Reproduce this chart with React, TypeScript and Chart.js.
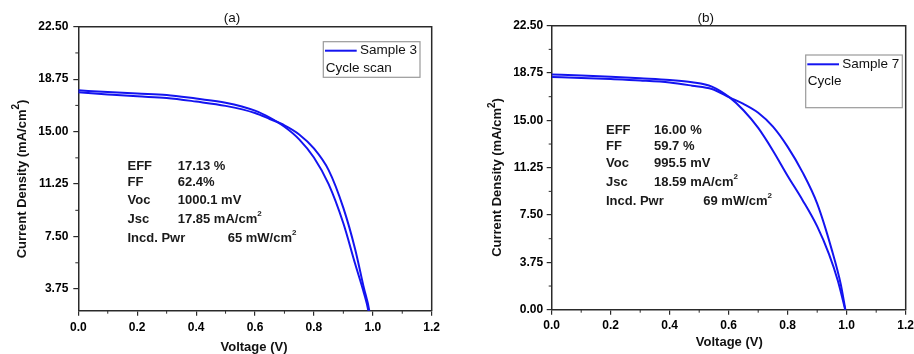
import React, { useEffect, useRef } from "react";
import { Chart, registerables } from "chart.js";
Chart.register(...registerables);

// ---------- data ----------
const xTicks = [0, 0.2, 0.4, 0.6, 0.8, 1.0, 1.2];
const yTicksA = [3.75, 7.5, 11.25, 15, 18.75, 22.5];
const yTicksB = [0, 3.75, 7.5, 11.25, 15, 18.75, 22.5];

// Panel (a) – Sample 3, cycle scan (two sweeps)
const voltA1 = [0, 0.1, 0.2, 0.3, 0.4, 0.5, 0.6, 0.65, 0.7, 0.75, 0.8, 0.85, 0.9, 0.94, 0.97, 0.985, 1.0];
const currA1 = [17.95, 17.83, 17.72, 17.62, 17.36, 17.07, 16.5, 16.0, 15.35, 14.45, 13.15, 11.25, 8.45, 5.55, 3.45, 2.2, 0];
const voltA2 = [0, 0.1, 0.2, 0.3, 0.4, 0.5, 0.6, 0.65, 0.7, 0.75, 0.8, 0.85, 0.9, 0.94, 0.97, 0.988, 1.0001];
const currA2 = [17.81, 17.66, 17.52, 17.41, 17.15, 16.84, 16.33, 15.9, 15.45, 14.8, 13.8, 12.25, 9.55, 6.6, 3.8, 2.2, 0];

// Panel (b) – Sample 7, cycle (two sweeps)
const voltB1 = [0, 0.1, 0.2, 0.3, 0.4, 0.476, 0.543, 0.604, 0.65, 0.7, 0.75, 0.8, 0.85, 0.9, 0.94, 0.97, 0.995];
const currB1 = [18.64, 18.55, 18.45, 18.33, 18.2, 18.02, 17.67, 16.8, 15.8, 14.4, 12.6, 10.6, 8.7, 6.6, 4.4, 2.3, 0];
const voltB2 = [0, 0.1, 0.2, 0.3, 0.4, 0.476, 0.543, 0.604, 0.65, 0.7, 0.75, 0.8, 0.85, 0.9, 0.95, 0.98, 0.9955];
const currB2 = [18.44, 18.36, 18.27, 18.16, 18.0, 17.75, 17.49, 16.8, 16.3, 15.6, 14.5, 12.9, 10.9, 8.4, 4.7, 2.0, 0];

const statLabels = ["EFF", "FF", "Voc", "Jsc", "Incd. Pwr"];
const statsA = ["17.13 %", "62.4%", "1000.1 mV", "17.85 mA/cm^{2}", "65 mW/cm^{2}"];
const statsB = ["16.00 %", "59.7 %", "995.5 mV", "18.59 mA/cm^{2}", "69 mW/cm^{2}"];
const legendA = ["Sample 3", "Cycle scan"];
const legendB = ["Sample 7", "Cycle"];
const titleA = "(a)";
const titleB = "(b)";
const xTitle = "Voltage (V)";
const yTitle = "Current Density (mA/cm^{2})";

// ---------- styling / layout ----------
const FONT = "'Liberation Sans', Arial, Helvetica, sans-serif";
const BLUE = "#1414f0";
const AXIS = "#2a2a2a";

type Layout = {
  width: number;
  left: number;
  area: { left: number; right: number; top: number; bottom: number };
  yMin: number;
  yTickPad: number;
  xTickPad: number;
  title: { x: number; y: number };
  xTitle: { x: number; y: number };
  yTitle: { x: number; y: number };
  stats: { x0: number; x1: number; xLast: number; rows: number[] };
  legend: { box: number[]; lineX: number[]; lineY: number; textX: number; text2X: number; text2Y: number };
};

const layoutA: Layout = {
  width: 457,
  left: 0,
  area: { left: 78.3, right: 431.7, top: 26.7, bottom: 310.7 },
  yMin: 2.2,
  yTickPad: 5,
  xTickPad: 5,
  title: { x: 232, y: 18 },
  xTitle: { x: 254, y: 347.5 },
  yTitle: { x: 22, y: 179 },
  stats: { x0: 127.5, x1: 177.7, xLast: 227.7, rows: [166, 182.7, 200, 219, 238.3] },
  legend: { box: [323.3, 41.7, 96.7, 35.6], lineX: [325, 356.7], lineY: 50.7, textX: 360, text2X: 325.7, text2Y: 68 },
};

const layoutB: Layout = {
  width: 470,
  left: 457,
  area: { left: 94.7, right: 448.7, top: 25.7, bottom: 309.7 },
  yMin: 0,
  yTickPad: 3.5,
  xTickPad: 4,
  title: { x: 248.7, y: 18 },
  xTitle: { x: 272.3, y: 342.7 },
  yTitle: { x: 40.5, y: 177.5 },
  stats: { x0: 149, x1: 197, xLast: 246.3, rows: [130, 146.7, 163.3, 182.7, 201.7] },
  legend: { box: [348.7, 55, 96.6, 52.7], lineX: [350.3, 382], lineY: 64.3, textX: 385.3, text2X: 350.7, text2Y: 81.7 },
};

// ---------- rich text helpers ----------
function segments(s: string) {
  const out: { t: string; sup: boolean }[] = [];
  const re = /\^\{([^}]*)\}/g;
  let last = 0;
  let m: RegExpExecArray | null;
  while ((m = re.exec(s))) {
    if (m.index > last) out.push({ t: s.slice(last, m.index), sup: false });
    out.push({ t: m[1], sup: true });
    last = m.index + m[0].length;
  }
  if (last < s.length) out.push({ t: s.slice(last), sup: false });
  return out;
}

function drawRich(
  ctx: CanvasRenderingContext2D,
  s: string,
  x: number,
  y: number,
  size: number,
  weight: string,
  align: "left" | "center",
  color: string,
  supScale = 0.62
) {
  const segs = segments(s);
  const main = `${weight} ${size}px ${FONT}`;
  const sup = `${weight} ${Math.round(size * supScale)}px ${FONT}`;
  let total = 0;
  for (const sg of segs) {
    ctx.font = sg.sup ? sup : main;
    total += ctx.measureText(sg.t).width;
  }
  let cx = align === "center" ? x - total / 2 : x;
  ctx.fillStyle = color;
  ctx.textAlign = "left";
  ctx.textBaseline = "middle";
  for (const sg of segs) {
    ctx.font = sg.sup ? sup : main;
    ctx.fillText(sg.t, cx, sg.sup ? y - size * 0.42 : y);
    cx += ctx.measureText(sg.t).width;
  }
}

function makeDecor(lay: Layout, title: string, stats: string[], legend: string[]) {
  return {
    id: "decor",
    afterDraw(chart: any) {
      const ctx: CanvasRenderingContext2D = chart.ctx;
      const a = chart.chartArea;
      const xs = chart.scales.x;
      const ys = chart.scales.y;
      ctx.save();
      // frame (top and right)
      ctx.strokeStyle = AXIS;
      ctx.lineWidth = 1.5;
      ctx.beginPath();
      ctx.moveTo(a.left, a.top);
      ctx.lineTo(a.right, a.top);
      ctx.lineTo(a.right, a.bottom);
      ctx.stroke();
      // minor ticks
      ctx.lineWidth = 1;
      ctx.beginPath();
      for (let i = 0; i < xTicks.length - 1; i++) {
        const v = (xTicks[i] + xTicks[i + 1]) / 2;
        const px = xs.getPixelForValue(v);
        ctx.moveTo(px, a.bottom);
        ctx.lineTo(px, a.bottom + 3);
      }
      const yt = ys.ticks.map((t: any) => t.value);
      for (let i = 0; i < yt.length - 1; i++) {
        const v = (yt[i] + yt[i + 1]) / 2;
        const py = ys.getPixelForValue(v);
        ctx.moveTo(a.left, py);
        ctx.lineTo(a.left - 3, py);
      }
      ctx.stroke();

      // panel title
      drawRich(ctx, title, lay.title.x, lay.title.y, 13.5, "normal", "center", "#111");
      // x title
      drawRich(ctx, xTitle, lay.xTitle.x, lay.xTitle.y, 13, "bold", "center", "#111");
      // y title (rotated)
      ctx.save();
      ctx.translate(lay.yTitle.x, lay.yTitle.y);
      ctx.rotate(-Math.PI / 2);
      drawRich(ctx, yTitle, 0, 0, 13, "bold", "center", "#111", 0.78);
      ctx.restore();

      // stats block
      const st = lay.stats;
      statLabels.forEach((lab, i) => {
        drawRich(ctx, lab, st.x0, st.rows[i], 13, "bold", "left", "#1a1a1a");
        const vx = i === statLabels.length - 1 ? st.xLast : st.x1;
        drawRich(ctx, stats[i], vx, st.rows[i], 13, "bold", "left", "#1a1a1a");
      });

      // legend
      const lg = lay.legend;
      ctx.strokeStyle = "#9a9a9a";
      ctx.lineWidth = 1.2;
      ctx.strokeRect(lg.box[0], lg.box[1], lg.box[2], lg.box[3]);
      ctx.strokeStyle = BLUE;
      ctx.lineWidth = 2;
      ctx.beginPath();
      ctx.moveTo(lg.lineX[0], lg.lineY);
      ctx.lineTo(lg.lineX[1], lg.lineY);
      ctx.stroke();
      drawRich(ctx, legend[0], lg.textX, lg.lineY, 13.5, "normal", "left", "#111");
      drawRich(ctx, legend[1], lg.text2X, lg.text2Y, 13.5, "normal", "left", "#111");
      ctx.restore();
    },
  };
}

function buildConfig(
  lay: Layout,
  yTicks: number[],
  series: { v: number[]; j: number[] }[],
  title: string,
  stats: string[],
  legend: string[]
): any {
  const H = 354;
  return {
    type: "line",
    data: {
      datasets: series.map((s, k) => ({
        label: `${legend[0]} sweep ${k + 1}`,
        data: s.v.map((v, i) => ({ x: v, y: s.j[i] })),
        borderColor: BLUE,
        borderWidth: 2,
        pointRadius: 0,
        fill: false,
        cubicInterpolationMode: "monotone",
      })),
    },
    options: {
      animation: false,
      responsive: false,
      maintainAspectRatio: false,
      layout: {
        padding: { top: lay.area.top, right: lay.width - lay.area.right, left: 0, bottom: 0 },
      },
      plugins: {
        legend: { display: false },
        tooltip: { enabled: false },
        title: { display: false },
      },
      scales: {
        x: {
          type: "linear",
          min: 0,
          max: 1.2,
          afterBuildTicks: (s: any) => {
            s.ticks = xTicks.map((v) => ({ value: v }));
          },
          afterFit: (s: any) => {
            s.height = H - lay.area.bottom;
          },
          ticks: {
            autoSkip: false,
            maxRotation: 0,
            padding: lay.xTickPad,
            color: "#000",
            font: { family: FONT, size: 12, weight: "bold" },
            callback: (v: any) => Number(v).toFixed(1),
          },
          grid: { display: true, drawOnChartArea: false, tickLength: 5, color: AXIS, lineWidth: 1.2 },
          border: { display: true, color: AXIS, width: 1.5 },
        },
        y: {
          type: "linear",
          min: lay.yMin,
          max: 22.5,
          afterBuildTicks: (s: any) => {
            s.ticks = yTicks.map((v) => ({ value: v }));
          },
          afterFit: (s: any) => {
            s.width = lay.area.left;
          },
          ticks: {
            autoSkip: false,
            padding: lay.yTickPad,
            color: "#000",
            font: { family: FONT, size: 12, weight: "bold" },
            callback: (v: any) => Number(v).toFixed(2),
          },
          grid: { display: true, drawOnChartArea: false, tickLength: 5, color: AXIS, lineWidth: 1.2 },
          border: { display: true, color: AXIS, width: 1.5 },
        },
      },
    },
    plugins: [makeDecor(lay, title, stats, legend)],
  };
}

function Panel(props: {
  lay: Layout;
  yTicks: number[];
  series: { v: number[]; j: number[] }[];
  title: string;
  stats: string[];
  legend: string[];
}) {
  const ref = useRef<HTMLCanvasElement | null>(null);
  useEffect(() => {
    if (!ref.current) return;
    const chart = new Chart(
      ref.current,
      buildConfig(props.lay, props.yTicks, props.series, props.title, props.stats, props.legend)
    );
    return () => chart.destroy();
  }, []);
  return (
    <canvas
      ref={ref}
      width={props.lay.width}
      height={354}
      style={{ position: "absolute", left: props.lay.left, top: 0, width: props.lay.width, height: 354 }}
    />
  );
}

export default function App() {
  useEffect(() => {
    document.body.style.margin = "0";
  }, []);
  return (
    <div
      style={{
        position: "fixed",
        left: 0,
        top: 0,
        width: 914,
        height: 354,
        overflow: "hidden",
        background: "#fff",
      }}
    >
      <Panel
        lay={layoutA}
        yTicks={yTicksA}
        series={[
          { v: voltA1, j: currA1 },
          { v: voltA2, j: currA2 },
        ]}
        title={titleA}
        stats={statsA}
        legend={legendA}
      />
      <Panel
        lay={layoutB}
        yTicks={yTicksB}
        series={[
          { v: voltB1, j: currB1 },
          { v: voltB2, j: currB2 },
        ]}
        title={titleB}
        stats={statsB}
        legend={legendB}
      />
    </div>
  );
}
